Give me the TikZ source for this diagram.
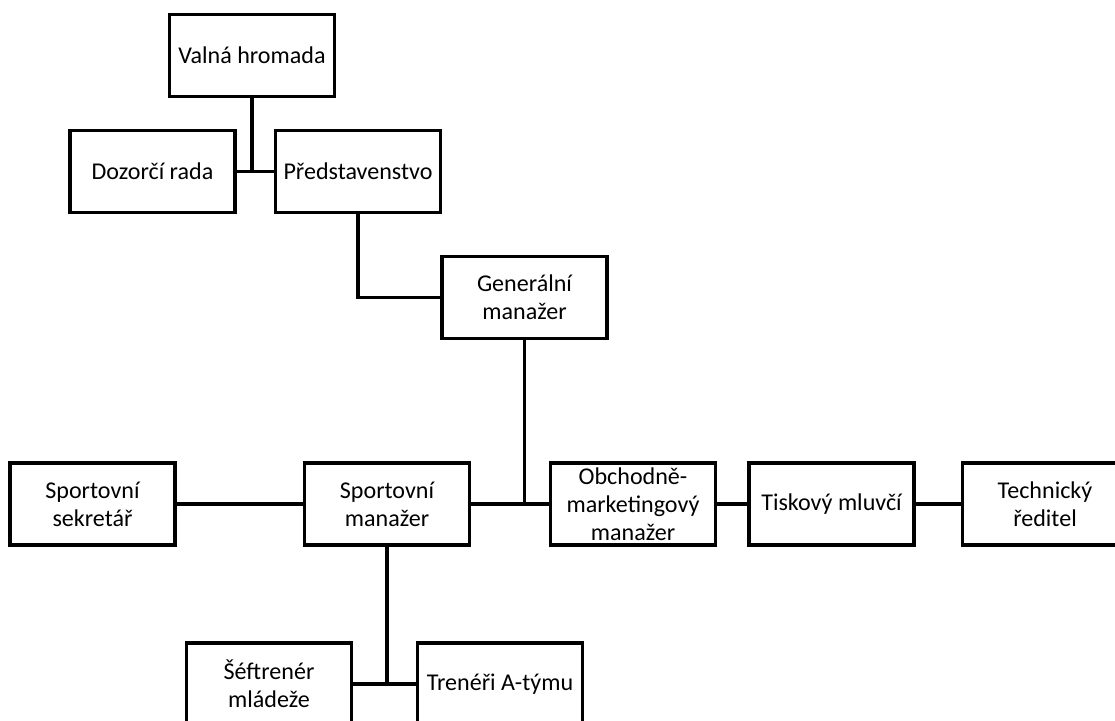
\documentclass[tikz,border=0pt]{standalone}
\usepackage{fontspec}
\setmainfont{Carlito}
\usetikzlibrary{calc}

\begin{document}
\begin{tikzpicture}[x=0.02cm, y=-0.02cm,
    unit/.style={draw, line width=2pt, minimum width=3.3cm, minimum height=1.64cm, inner sep=0pt, align=center, font=\fontsize{13.7}{15.8}\selectfont},
    link/.style={line width=1.8pt}]
    \clip (0,0) rectangle (1115,720);
    \node [unit] (valna) at (252,55.5) {Valná hromada};
    \node [unit] (dozorci) at (152.5,171.5) {Dozorčí rada};
    \node [unit] (predst) at (358,171.5) {Představenstvo};
    \node [unit] (genman) at (524.5,297.5) {Generální\\manažer};
    \node [unit] (sekretar) at (92.5,504) {Sportovní\\sekretář};
    \node [unit] (sportman) at (387,504) {Sportovní\\manažer};
    \node [unit] (obchod) at (633,504) {Obchodně-\\marketingový\\manažer};
    \node [unit] (tisk) at (831.5,504) {Tiskový mluvčí};
    \node [unit] (tech) at (1045,504) {Technický\\ředitel};
    \node [unit] (sef) at (269,684) {Šéftrenér\\mládeže};
    \node [unit] (trener) at (500,684) {Trenéři A-týmu};
    \draw [link] (dozorci) -- (predst);
    \draw [link] (valna.south) -- (valna.south |- dozorci.east);
    \draw [link] (predst.south) |- (genman.west);
    \draw [link] (sekretar) -- (sportman);
    \draw [link] (sportman) -- (obchod);
    \draw [link] (genman.south) -- (genman.south |- sportman.east);
    \draw [link] (obchod) -- (tisk);
    \draw [link] (tisk) -- (tech);
    \draw [link] (sef) -- (trener);
    \draw [link] (sportman.south) -- (sportman.south |- sef.east);
\end{tikzpicture}
\end{document}
